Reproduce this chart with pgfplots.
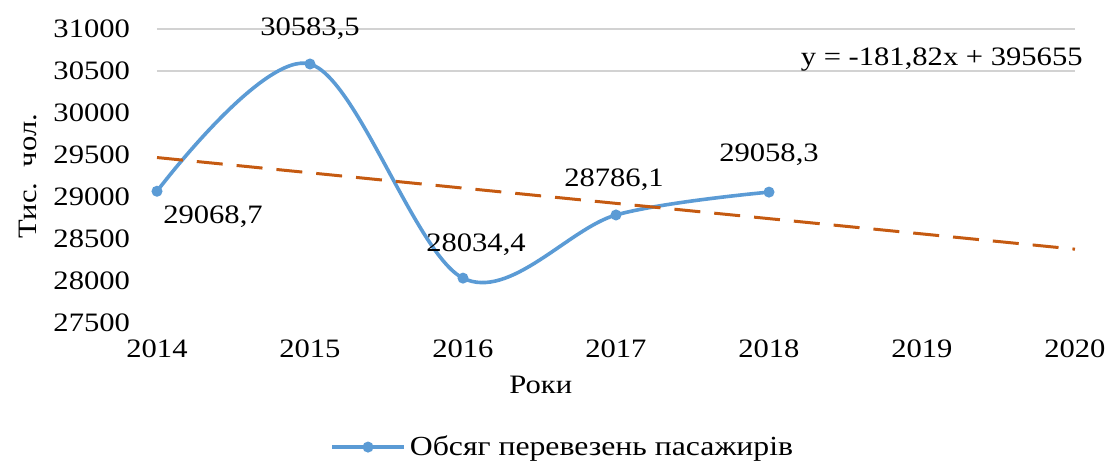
\documentclass[border=0pt]{standalone}
\usepackage{fontspec}
\setmainfont{Liberation Serif}[FakeStretch=1.15]
\usepackage{pgfplots}
\usepackage{pgfplotstable}
\pgfplotsset{compat=1.18}
\definecolor{cblue}{HTML}{5B9BD5}
\definecolor{corange}{HTML}{C55A11}
\pgfplotstableread{
x y lab dx dy
2014 29068.7 29068,7 28 -12.5
2015 30583.5 30583,5 0 17.5
2016 28034.4 28034,4 6.5 16.5
2017 28786.1 28786,1 -1 17.5
2018 29058.3 29058,3 0 18.5
}\datatable
\begin{document}
\begin{tikzpicture}
\useasboundingbox (0,0) rectangle (555pt,231.5pt);
\begin{axis}[
  at={(78.5pt,70pt)}, anchor=south west,
  scale only axis, width=459pt, height=147pt,
  xmin=2014, xmax=2020, ymin=27500, ymax=31000,
  xtick={2014,...,2020}, ytick={27500,28000,...,31000},
  scaled ticks=false,
  axis line style={draw=none}, tick style={draw=none},
  /pgf/number format/assume math mode=true,
  /pgf/number format/1000 sep={},
  yticklabel={\pgfmathprintnumber[fixed,precision=0,1000 sep={}]{\tick}},
  font=\fontsize{13.3}{15}\selectfont,
  xticklabel style={yshift=-5pt},
  yticklabel style={xshift=-10pt},
  extra y ticks={30500,31000}, extra y tick labels={},
  extra y tick style={grid=major, major grid style={draw=gray!35, line width=0.6pt}},
  xlabel={Роки}, ylabel={Тис.\ \ чол.},
  xlabel style={at={(axis description cs:0.418,-0.211)}, anchor=center},
  ylabel style={at={(axis description cs:-0.1405,0.5)}, anchor=center},
  legend style={at={(axis description cs:0.443,-0.422)}, anchor=center, draw=none, fill=none, font=\fontsize{13.8}{15}\selectfont},
  legend cell align=left,
  legend image code/.code={\draw[mark repeat=2,mark phase=2] plot coordinates {(0pt,0pt)(18pt,0pt)(36pt,0pt)};},
  clip=false,
]
\addplot[cblue, line width=1.8pt, smooth, tension=0.55, mark=*, mark size=1.8pt, mark options={solid},
  point meta=explicit symbolic,
  nodes near coords={\pgfplotspointmeta},
  visualization depends on={\thisrow{dx} \as \dx},
  visualization depends on={\thisrow{dy} \as \dy},
  nodes near coords style={text=black, anchor=center, xshift=\dx pt, yshift=\dy pt, font=\fontsize{13.3}{15}\selectfont},
] table[x=x, y=y, meta=lab] {\datatable};
\addlegendentry{Обсяг перевезень пасажирів}
\addplot[corange, line width=1.5pt, dash pattern=on 13pt off 7pt, forget plot] coordinates {(2014,29469.84) (2020,28378.92)};
\node[anchor=east, font=\fontsize{13.3}{15}\selectfont] at (axis description cs:1.016,0.895) {y = -181,82x + 395655};
\end{axis}
\end{tikzpicture}
\end{document}
